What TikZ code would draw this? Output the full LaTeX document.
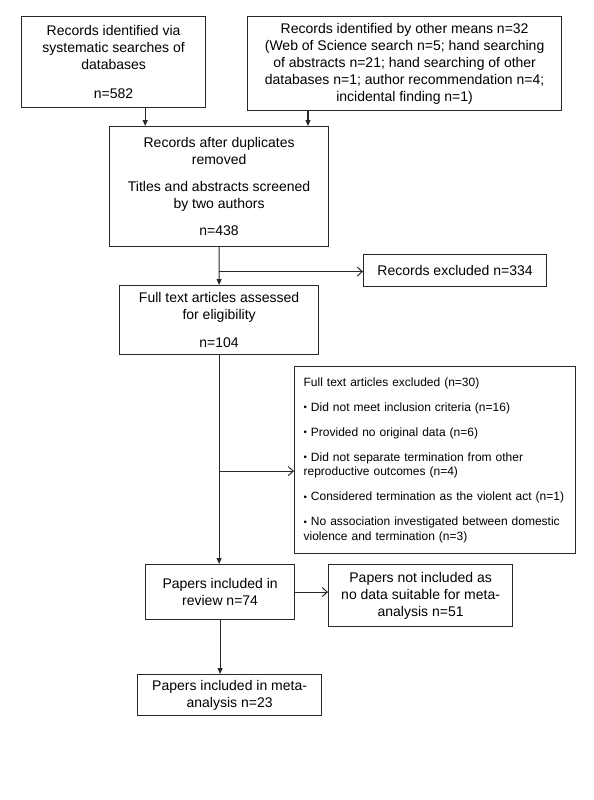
\documentclass[tikz,border=0pt]{standalone}
\usepackage{fontspec}
\setmainfont{Liberation Sans}
\usetikzlibrary{arrows.meta,calc}
\definecolor{ln}{RGB}{40,40,40}
\newcommand{\smallbul}{\raisebox{0.1ex}{\scalebox{0.8}{\textbullet}}}
\begin{document}
\begin{tikzpicture}[x=1bp,y=-1bp,
  box/.style={draw=ln,line width=1.2bp,rectangle,anchor=north west,inner sep=0pt,align=center,
    font=\fontsize{14bp}{17bp}\selectfont},
  smallbox/.style={box,align=left,font=\fontsize{12bp}{14.3bp}\selectfont},
  dn/.style={draw=ln,line width=1.2bp,-{Triangle[width=5bp,length=6bp]}},
  rt/.style={draw=ln,line width=1.2bp,-{Straight Barb[width=9bp,length=5bp,line width=1bp]}},
  seg/.style={draw=ln,line width=1.2bp}]
\useasboundingbox (0,0) rectangle (594,800);
\fill[white] (0,0) rectangle (594,800);

\node[box,minimum width=184bp,minimum height=91bp] (A) at (21,16)
  {Records identified via\\systematic searches of\\databases\\[12bp]n=582};
\node[box,minimum width=314bp,minimum height=94bp] (B) at (247,16)
  {Records identified by other means n=32\\(Web of Science search n=5; hand searching\\of abstracts n=21; hand searching of other\\databases n=1; author recommendation n=4;\\incidental finding n=1)};
\node[box,minimum width=219bp,minimum height=120bp] (C) at (109,126)
  {Records after duplicates\\removed\\[10bp]Titles and abstracts screened\\by two authors\\[10bp]n=438};
\node[box,minimum width=183bp,minimum height=32bp] (E) at (363,254)
  {Records excluded n=334};
\node[box,minimum width=199bp,minimum height=69bp] (D) at (119,285)
  {Full text articles assessed\\for eligibility\\[11bp]n=104};
\node[smallbox,minimum width=281bp,minimum height=187bp,text width=263bp,inner xsep=9bp] (F) at (294,366)
  {Full text articles excluded (n=30)\\[10.7bp]
   \smallbul\ Did not meet inclusion criteria (n=16)\\[10.7bp]
   \smallbul\ Provided no original data (n=6)\\[10.7bp]
   \smallbul\ Did not separate termination from other\\reproductive outcomes (n=4)\\[10.7bp]
   \smallbul\ Considered termination as the violent act (n=1)\\[10.7bp]
   \smallbul\ No association investigated between domestic\\violence and termination (n=3)};
\node[box,minimum width=149bp,minimum height=55bp] (G) at (145,564)
  {Papers included in\\review n=74};
\node[box,minimum width=184bp,minimum height=62bp] (H) at (328,564)
  {Papers not included as\\no data suitable for meta-\\analysis n=51};
\node[box,minimum width=184bp,minimum height=41bp] (I) at (137,674)
  {Papers included in meta-\\analysis n=23};

\coordinate (a1) at ([xshift=-61bp]A.south east);
\coordinate (b1) at ([xshift=61bp]B.south west);
\draw[dn] (a1) -- (a1 |- C.north);
\draw[dn] (b1) -- (b1 |- C.north);

\draw[dn] (C.south) -- (D.north);
\coordinate (j1) at ([yshift=-1bp]C.south |- E.west);
\draw[rt] (j1) -- (j1 -| E.west);

\draw[dn] (D.south) -- (D.south |- G.north);
\coordinate (j2) at ([yshift=-11bp]F.west);
\draw[rt] (j2 -| D.south) -- (j2);

\draw[rt] (G.east) -- (G.east -| H.west);
\draw[dn] (G.south) -- (G.south |- I.north);
\end{tikzpicture}
\end{document}
